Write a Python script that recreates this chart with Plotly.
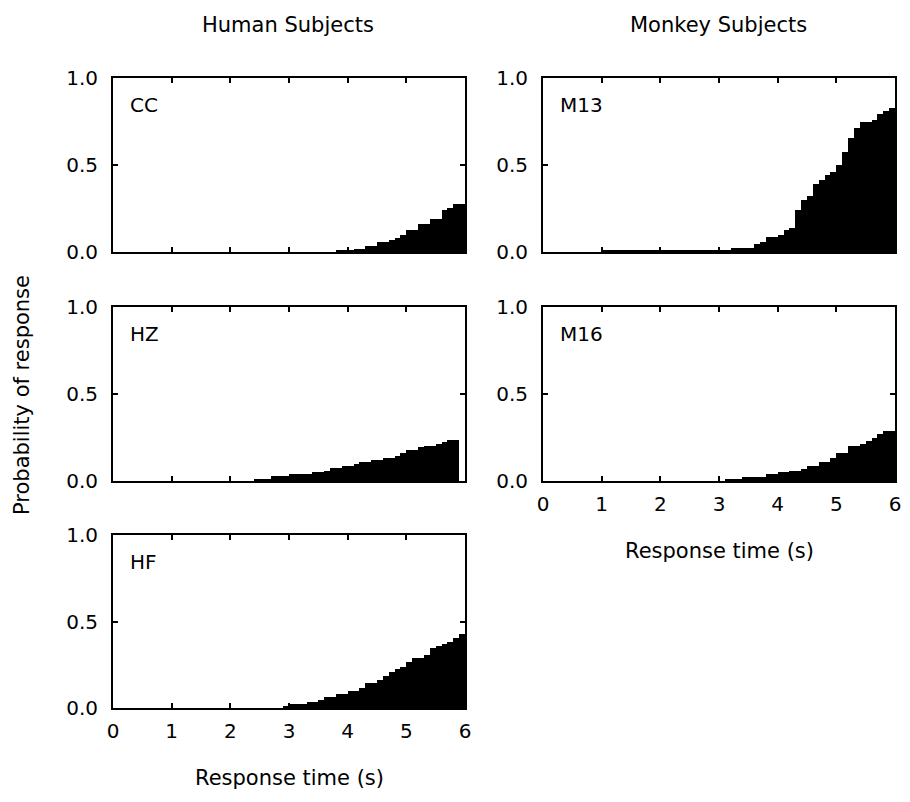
import plotly.graph_objects as go

# Bin centres (s) and per-bin response probabilities (0.1 s bins, 0-6 s)
bin_width = 0.1
bin_centers = [round(0.05 + 0.1 * i, 2) for i in range(60)]

CC = [0, 0, 0, 0, 0, 0, 0, 0, 0, 0,
      0, 0, 0, 0, 0, 0, 0, 0, 0, 0,
      0, 0, 0, 0, 0, 0, 0, 0, 0, 0,
      0, 0, 0, 0, 0, 0, 0, 0, 0.01, 0.01,
      0.01, 0.02, 0.02, 0.035, 0.035, 0.06, 0.06, 0.07, 0.08, 0.10,
      0.126, 0.126, 0.16, 0.16, 0.19, 0.19, 0.24, 0.255, 0.276, 0.276]

HZ = [0, 0, 0, 0, 0, 0, 0, 0, 0, 0,
      0, 0, 0, 0, 0, 0, 0, 0, 0, 0,
      0, 0, 0, 0, 0.013, 0.013, 0.013, 0.027, 0.027, 0.027,
      0.038, 0.038, 0.038, 0.038, 0.05, 0.05, 0.06, 0.075, 0.075, 0.086,
      0.086, 0.10, 0.11, 0.11, 0.12, 0.12, 0.13, 0.13, 0.145, 0.163,
      0.176, 0.176, 0.195, 0.20, 0.20, 0.21, 0.224, 0.234, 0.234, 0]

HF = [0, 0, 0, 0, 0, 0, 0, 0, 0, 0,
      0, 0, 0, 0, 0, 0, 0, 0, 0, 0,
      0, 0, 0, 0, 0, 0, 0, 0, 0, 0.006,
      0.023, 0.023, 0.023, 0.036, 0.036, 0.048, 0.063, 0.063, 0.082, 0.082,
      0.096, 0.096, 0.115, 0.144, 0.144, 0.163, 0.186, 0.21, 0.224, 0.236,
      0.264, 0.287, 0.287, 0.307, 0.345, 0.358, 0.37, 0.383, 0.406, 0.427]

M13 = [0, 0, 0, 0, 0, 0, 0, 0, 0, 0,
       0.01, 0.01, 0.01, 0.01, 0.01, 0.01, 0.01, 0.01, 0.01, 0.01,
       0.01, 0.01, 0.01, 0.01, 0.01, 0.01, 0.01, 0.01, 0.01, 0.013,
       0.013, 0.013, 0.023, 0.023, 0.023, 0.023, 0.048, 0.06, 0.084, 0.084,
       0.096, 0.128, 0.14, 0.24, 0.30, 0.32, 0.39, 0.415, 0.44, 0.46,
       0.50, 0.577, 0.655, 0.713, 0.75, 0.75, 0.76, 0.795, 0.81, 0.83]

M16 = [0, 0, 0, 0, 0, 0, 0, 0, 0, 0,
       0, 0, 0, 0, 0, 0, 0, 0, 0, 0,
       0, 0, 0, 0, 0, 0, 0, 0, 0, 0,
       0, 0.013, 0.013, 0.013, 0.025, 0.025, 0.025, 0.025, 0.038, 0.038,
       0.05, 0.05, 0.06, 0.06, 0.07, 0.084, 0.084, 0.107, 0.107, 0.13,
       0.163, 0.163, 0.20, 0.20, 0.21, 0.23, 0.245, 0.27, 0.29, 0.29]

subject_names = ["CC", "HZ", "HF", "M13", "M16"]
subject_values = [CC, HZ, HF, M13, M16]
x_tick_vals = [0, 1, 2, 3, 4, 5, 6]
y_tick_vals = [0, 0.5, 1.0]

W, H = 910, 802
FONT = "DejaVu Sans"
FS = 20

# panel pixel boxes: (left, right), (top, bottom), show x tick labels
left_col = (113, 465)
right_col = (543, 895)
rows = [(78, 252), (307, 481), (535, 708)]
panels = [
    (left_col, rows[0], False),
    (left_col, rows[1], False),
    (left_col, rows[2], True),
    (right_col, rows[0], False),
    (right_col, rows[1], True),
]

fig = go.Figure()
layout = {}
annotations = []
for i, (name, vals, (col, row, showx)) in enumerate(zip(subject_names, subject_values, panels)):
    n = "" if i == 0 else str(i + 1)
    fig.add_trace(go.Bar(x=bin_centers, y=vals, width=bin_width,
                         marker=dict(color="black", line=dict(width=0)),
                         xaxis="x" + n, yaxis="y" + n, showlegend=False,
                         hoverinfo="skip"))
    xd = [col[0] / W, col[1] / W]
    yd = [1 - row[1] / H, 1 - row[0] / H]
    common = dict(showline=True, linecolor="black", linewidth=2, mirror="allticks",
                  ticks="inside", ticklen=5, tickwidth=2, tickcolor="black",
                  showgrid=False, zeroline=False, automargin=False,
                  tickfont=dict(family=FONT, size=FS, color="black"))
    layout["xaxis" + n] = dict(domain=xd, anchor="y" + n, range=[0, 6],
                               tickvals=x_tick_vals, showticklabels=showx,
                               ticklabelstandoff=4, **common)
    layout["yaxis" + n] = dict(domain=yd, anchor="x" + n, range=[0, 1],
                               tickvals=y_tick_vals, tickformat=".1f",
                               ticklabelstandoff=9, **common)
    annotations.append(dict(text=name, x=(col[0] + 15) / W, y=1 - (row[0] + 27) / H,
                            xref="paper", yref="paper", xanchor="left", yanchor="middle",
                            showarrow=False, font=dict(family=FONT, size=FS, color="black")))

texts = [
    ("Human Subjects", 288, 25, 0),
    ("Monkey Subjects", 718, 25, 0),
    ("Response time (s)", 289, 778, 0),
    ("Response time (s)", 719, 551, 0),
    ("Probability of response", 22, 395, -90),
]
for t, x, y, ang in texts:
    annotations.append(dict(text=t, x=x / W, y=1 - y / H, xref="paper", yref="paper",
                            xanchor="center", yanchor="middle", textangle=ang,
                            showarrow=False, font=dict(family=FONT, size=FS + 1, color="black")))

fig.update_layout(template="none", width=W, height=H,
                  margin=dict(l=0, r=0, t=0, b=0, pad=0, autoexpand=False),
                  paper_bgcolor="white", plot_bgcolor="white", bargap=0,
                  annotations=annotations, **layout)
fig.write_html("out.html", config={"displayModeBar": False},
               post_script="document.body.style.margin='0';document.body.style.overflow='hidden';")
